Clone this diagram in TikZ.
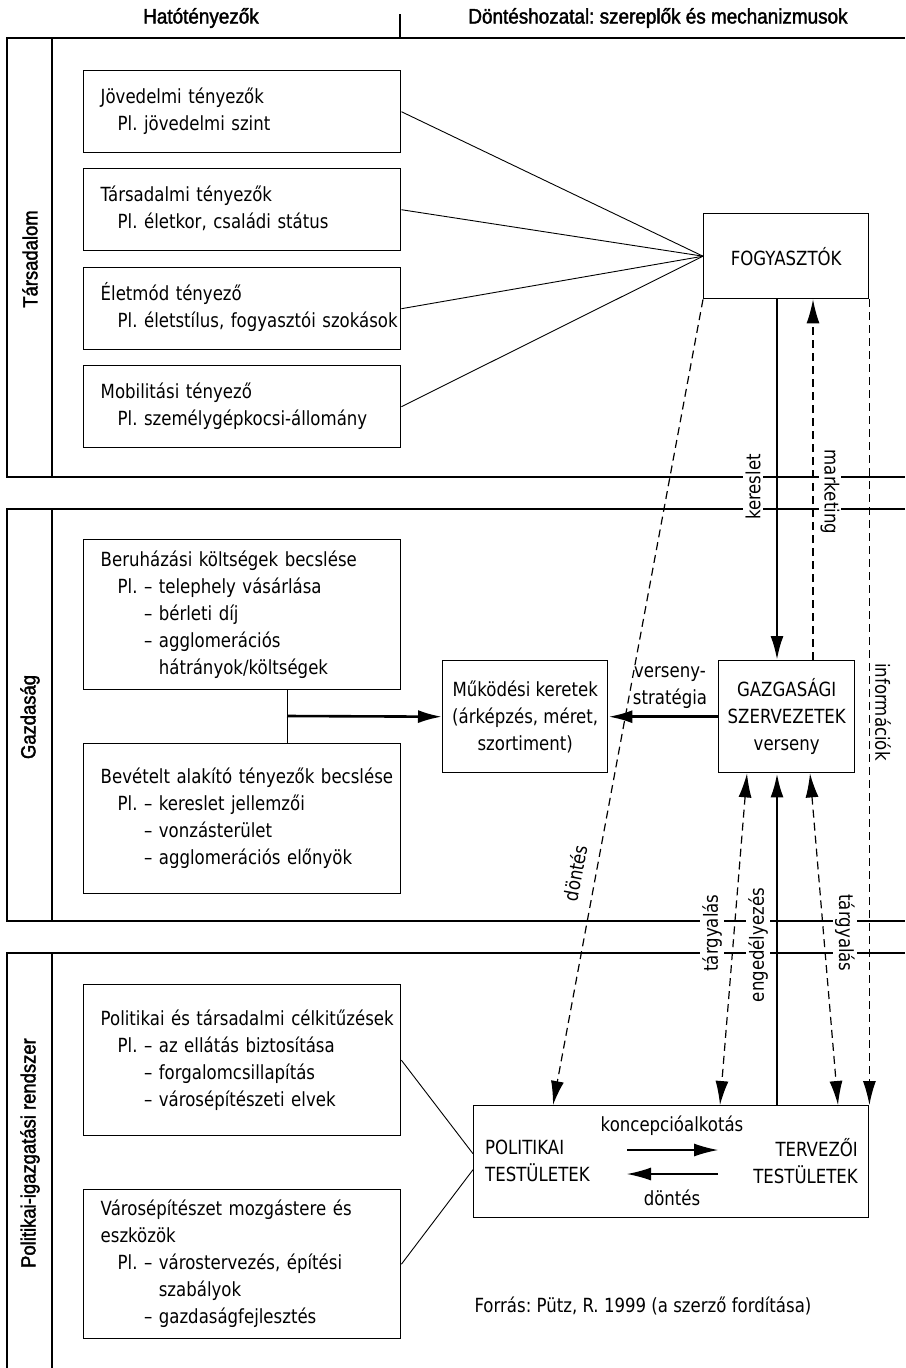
\documentclass[tikz,border=0pt]{standalone}
\usepackage{fontspec}
\setmainfont{DejaVu Sans}[FakeStretch=0.85]
\newfontfamily\headfont{Liberation Sans}[FakeStretch=0.9,FakeBold=1.8]
\usetikzlibrary{arrows.meta,positioning}
\frenchspacing
\newcommand{\ind}{\hspace*{17pt}}
\newcommand{\boxlines}[1]{\begin{tabular}{@{\hspace{17pt}}l@{}}#1\end{tabular}}
\tikzset{
  head/.style={font=\headfont\fontsize{21}{24}\selectfont},
  bandlabel/.style={font=\headfont\fontsize{20.5}{24}\selectfont,rotate=90},
  band/.style={line width=1.3pt},
  factor/.style={draw,line width=1.4pt,anchor=north west,minimum width=317,text width=317,inner xsep=0,align=left},
  actor/.style={draw,line width=1.4pt,anchor=north west,align=center,inner sep=0},
  link/.style={line width=0.9pt},
  solidarr/.style={line width=2.6pt,-{Latex[length=24pt,width=13pt]}},
  dasharr/.style={line width=1.2pt,dash pattern=on 8pt off 5pt,-{Latex[length=24pt,width=13pt]}},
  dashboth/.style={line width=1.2pt,dash pattern=on 8pt off 5pt,{Latex[length=24pt,width=13pt]}-{Latex[length=24pt,width=13pt]}},
  thinarr/.style={line width=1.2pt,-{Latex[length=24pt,width=13pt]}},
  arrlabel/.style={fill=white,inner sep=2pt}
}
\begin{document}
\begin{tikzpicture}[x=1pt,y=-1pt,font=\fontsize{19.5}{27}\selectfont]
\useasboundingbox (0,0) rectangle (905,1368);

% Fejlec
\node[head] (hfactors) at (201,18) {Hatótényezők};
\node[head] (hdecision) at (658,18) {Döntéshozatal: szereplők és mechanizmusok};
\draw[band] (400,14) -- (400,38);

% Savok
\draw[band] (905,38) -- (7,38) -- (7,477) -- (905,477);
\draw[band] (52,38) -- (52,477);
\draw[band] (905,509) -- (7,509) -- (7,921) -- (905,921);
\draw[band] (52,509) -- (52,921);
\draw[band] (905,953) -- (7,953) -- (7,1368);
\draw[band] (52,953) -- (52,1368);
\node[bandlabel] (lsoc) at (30,259) {Társadalom};
\node[bandlabel] (leco) at (30,717) {Gazdaság};
\node[bandlabel] (lpol) at (30,1153) {Politikai-igazgatási rendszer};

% Tarsadalom
\node[factor,minimum height=82] (income) at (83,70)
  {\boxlines{Jövedelmi tényezők\\\ind Pl. jövedelmi szint}};
\node[factor,minimum height=82] (social) at (83,168)
  {\boxlines{Társadalmi tényezők\\\ind Pl. életkor, családi státus}};
\node[factor,minimum height=82] (lifestyle) at (83,267)
  {\boxlines{Életmód tényező\\\ind Pl. életstílus, fogyasztói szokások}};
\node[factor,minimum height=82] (mobility) at (83,365)
  {\boxlines{Mobilitási tényező\\\ind Pl. személygépkocsi-állomány}};
\node[actor,minimum width=165,minimum height=85] (cons) at (703,213) {FOGYASZTÓK};
\foreach \f in {income,social,lifestyle,mobility}
  \draw[link] (\f.east) -- (cons.west);

% Gazdasag
\node[factor,minimum height=150] (invest) at (83,539)
  {\boxlines{Beruházási költségek becslése\\
   \ind Pl. – telephely vásárlása\\
   \ind\phantom{Pl. }– bérleti díj\\
   \ind\phantom{Pl. }– agglomerációs\\
   \ind\phantom{Pl. – }hátrányok/költségek}};
\node[factor,minimum height=150] (revenue) at (83,743)
  {\boxlines{Bevételt alakító tényezők becslése\\
   \ind Pl. – kereslet jellemzői\\
   \ind\phantom{Pl. }– vonzásterület\\
   \ind\phantom{Pl. }– agglomerációs előnyök}};
\node[actor,minimum width=165,minimum height=112] (frame) at (442,660)
  {Működési keretek\\(árképzés, méret,\\szortiment)};
\node[actor,minimum width=136,minimum height=112] (firms) at (718,660)
  {GAZGASÁGI\\SZERVEZETEK\\verseny};
\coordinate (merge) at (287,716);
\draw[link] (invest.south -| merge) -- (revenue.north -| merge);
\draw[solidarr] (merge) -- (frame.west);
\draw[solidarr] (firms.west) -- (frame.east);
\node[align=center] (strat) at (670,688) {verseny-\\stratégia};

% Politikai-igazgatasi rendszer
\node[factor,minimum height=151] (goals) at (83,984)
  {\boxlines{Politikai és társadalmi célkitűzések\\
   \ind Pl. – az ellátás biztosítása\\
   \ind\phantom{Pl. }– forgalomcsillapítás\\
   \ind\phantom{Pl. }– városépítészeti elvek}};
\node[factor,minimum height=149] (tools) at (83,1189)
  {\boxlines{Városépítészet mozgástere és\\
   eszközök\\
   \ind Pl. – várostervezés, építési\\
   \ind\phantom{Pl. – }szabályok\\
   \ind\phantom{Pl. }– gazdaságfejlesztés}};
\node[actor,minimum width=395,minimum height=112] (pol) at (473,1105) {};
\node[anchor=west,align=left,inner sep=0] (polbody) at (485,1161) {POLITIKAI\\TESTÜLETEK};
\node[anchor=east,align=right,inner sep=0] (planbody) at (858,1161) {TERVEZŐI\\TESTÜLETEK};
\coordinate (kl) at (627,1150);
\coordinate (kr) at (718,1150);
\coordinate (dl) at (627,1174);
\coordinate (dr) at (718,1174);
\draw[thinarr] (kl) -- (kr);
\draw[thinarr] (dr) -- (dl);
\node (concept) at (672,1126) {koncepcióalkotás};
\node (decide) at (672,1198) {döntés};
\draw[link] (goals.east) -- ([yshift=8pt]pol.west);
\draw[link] (tools.east) -- ([yshift=-8pt]pol.west);

% Cimkek a savhatarokon
\node[arrlabel,rotate=90] (ldemand) at (753,487) {kereslet};
\node[arrlabel,rotate=-90] (lmarket) at (830,492) {marketing};
\node[arrlabel,rotate=90] (lnegl) at (712,933) {tárgyalás};
\node[arrlabel,rotate=90] (lpermit) at (758,945) {engedélyezés};
\node[arrlabel,rotate=-90] (lnegr) at (845,933) {tárgyalás};
\node[rotate=-90] (linfo) at (883,712) {információk};
\node[rotate=79.5] (ldec) at (575,873) {döntés};

% Nyilak
\coordinate (xdemand) at (777,0);
\coordinate (xmarket) at (813,0);
\coordinate (xdec) at (553,0);
\coordinate (xnegl) at (747,0);
\coordinate (xneglb) at (720,0);
\coordinate (xpermit) at (777,0);
\coordinate (xnegr) at (810,0);
\coordinate (xnegrb) at (838,0);
\draw[solidarr] (cons.south -| xdemand) -- (firms.north -| xdemand);
\draw[dasharr] (firms.north -| xmarket) -- (cons.south -| xmarket);
\draw[dasharr] (cons.south east) -- (pol.north east);
\draw[dasharr] (cons.south west) -- (pol.north -| xdec);
\draw[dashboth] (firms.south -| xnegl) -- (pol.north -| xneglb);
\draw[solidarr] (pol.north -| xpermit) -- (firms.south -| xpermit);
\draw[dashboth] (firms.south -| xnegr) -- (pol.north -| xnegrb);

% Forras
\node[anchor=west] (source) at (471,1306) {Forrás: Pütz, R. 1999 (a szerző fordítása)};
\end{tikzpicture}
\end{document}
